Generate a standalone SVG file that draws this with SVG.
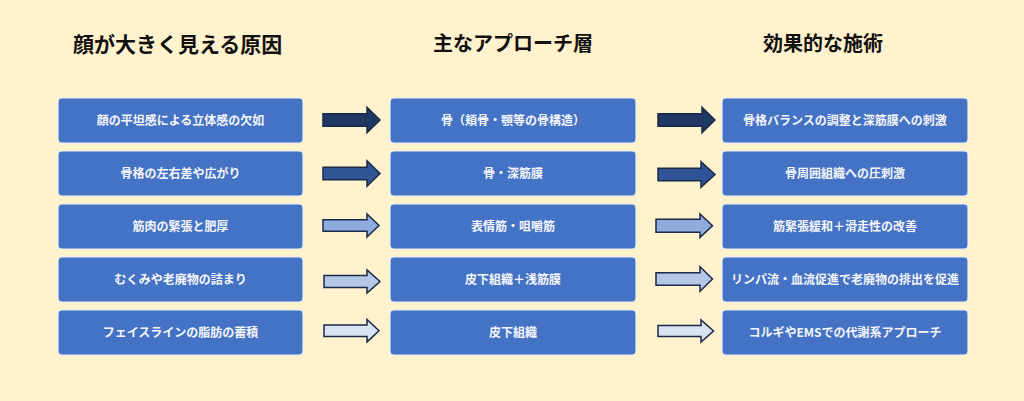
<svg xmlns="http://www.w3.org/2000/svg" width="1024" height="401" viewBox="0 0 1024 401">
<style>
.bg{fill:#fff2cc}
.title{font-family:"Noto Sans CJK JP","Noto Sans",sans-serif;font-size:20px;font-weight:700;fill:#111}
.big{font-size:21px}
.box{fill:#4472c4;stroke:#e8eef8;stroke-width:1.2}
.lbl{font-family:"Noto Sans CJK JP","Noto Sans",sans-serif;font-size:12px;font-weight:700;fill:#f4f6fb;text-anchor:middle}
.arr{stroke:#1b2a47;stroke-width:1.5;stroke-linejoin:miter}
.a1{fill:#1f3864}.a2{fill:#2f5597}.a3{fill:#8faadc}.a4{fill:#b4c7e7}.a5{fill:#dae3f3}
</style>
<rect class="bg" x="0" y="0" width="1024" height="401"/>
<g id="titles">
<text class="title big" x="73" y="51.5">顔が大きく見える原因</text>
<text class="title" x="433" y="51">主なアプローチ層</text>
<text class="title" x="763" y="51">効果的な施術</text>
</g>
<g id="cause1"><rect class="box" x="58" y="98" width="245" height="45" rx="4"/><text class="lbl" x="180.5" y="125">顔の平坦感による立体感の欠如</text></g>
<g id="cause2"><rect class="box" x="58" y="151" width="245" height="45" rx="4"/><text class="lbl" x="180.5" y="178">骨格の左右差や広がり</text></g>
<g id="cause3"><rect class="box" x="58" y="204" width="245" height="45" rx="4"/><text class="lbl" x="180.5" y="231">筋肉の緊張と肥厚</text></g>
<g id="cause4"><rect class="box" x="58" y="257" width="245" height="45" rx="4"/><text class="lbl" x="180.5" y="284">むくみや老廃物の詰まり</text></g>
<g id="cause5"><rect class="box" x="58" y="310" width="245" height="45" rx="4"/><text class="lbl" x="180.5" y="337">フェイスラインの脂肪の蓄積</text></g>
<g id="layer1"><rect class="box" x="390" y="98" width="246" height="45" rx="4"/><text class="lbl" x="513" y="125">骨（頬骨・顎等の骨構造）</text></g>
<g id="layer2"><rect class="box" x="390" y="151" width="246" height="45" rx="4"/><text class="lbl" x="513" y="178">骨・深筋膜</text></g>
<g id="layer3"><rect class="box" x="390" y="204" width="246" height="45" rx="4"/><text class="lbl" x="513" y="231">表情筋・咀嚼筋</text></g>
<g id="layer4"><rect class="box" x="390" y="257" width="246" height="45" rx="4"/><text class="lbl" x="513" y="284">皮下組織＋浅筋膜</text></g>
<g id="layer5"><rect class="box" x="390" y="310" width="246" height="45" rx="4"/><text class="lbl" x="513" y="337">皮下組織</text></g>
<g id="method1"><rect class="box" x="722" y="98" width="246" height="45" rx="4"/><text class="lbl" x="845" y="125">骨格バランスの調整と深筋膜への刺激</text></g>
<g id="method2"><rect class="box" x="722" y="151" width="246" height="45" rx="4"/><text class="lbl" x="845" y="178">骨周囲組織への圧刺激</text></g>
<g id="method3"><rect class="box" x="722" y="204" width="246" height="45" rx="4"/><text class="lbl" x="845" y="231">筋緊張緩和＋滑走性の改善</text></g>
<g id="method4"><rect class="box" x="722" y="257" width="246" height="45" rx="4"/><text class="lbl" x="845" y="284">リンパ流・血流促進で老廃物の排出を促進</text></g>
<g id="method5"><rect class="box" x="722" y="310" width="246" height="45" rx="4"/><text class="lbl" x="845" y="337">コルギやEMSでの代謝系アプローチ</text></g>
<g id="connectors">
<path class="arr a1" d="M323,113.7 H367 V107.3 L380,120 L367,132.7 V126.3 H323 Z"/>
<path class="arr a2" d="M323,167.2 H367 V160.8 L380,173.5 L367,186.2 V179.8 H323 Z"/>
<path class="arr a3" d="M323,219.7 H367 V214 L379,225.5 L367,237 V231.3 H323 Z"/>
<path class="arr a4" d="M324,275.5 H367 V270 L380,281.5 L367,293 V287.5 H324 Z"/>
<path class="arr a5" d="M324,325 H367 V319.5 L379,330.7 L367,341.9 V336.4 H324 Z"/>
<path class="arr a1" d="M658,113.7 H702 V107.3 L715,120 L702,132.7 V126.3 H658 Z"/>
<path class="arr a2" d="M658,168.2 H701 V161.8 L715,174.5 L701,187.2 V180.8 H658 Z"/>
<path class="arr a3" d="M656,219.2 H700 V214 L712.5,225.7 L700,237.4 V232.2 H656 Z"/>
<path class="arr a4" d="M656,272.7 H700 V266.7 L712.5,279 L700,291.3 V285.3 H656 Z"/>
<path class="arr a5" d="M658,325.5 H701 V320 L713.5,331 L701,342 V336.5 H658 Z"/>
</g>
</svg>
